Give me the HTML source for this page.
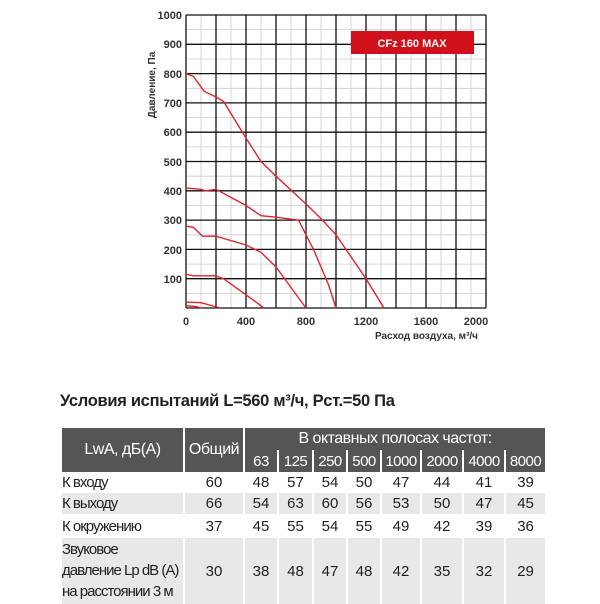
<!DOCTYPE html>
<html><head><meta charset="utf-8"><style>
body{margin:0;width:600px;height:600px;background:#fff;overflow:hidden;position:relative;font-family:"Liberation Sans",sans-serif}
.t{position:absolute;left:60px;top:392px;font:bold 16.5px "Liberation Sans",sans-serif;color:#222;letter-spacing:-0.3px;white-space:nowrap}
table{position:absolute;left:60px;top:428px;border-collapse:collapse;font-size:15px;color:#222;table-layout:fixed;width:485px}
td{padding:0;text-align:center;border:2px solid #fff;border-top:none;border-bottom:none;white-space:nowrap;overflow:hidden}
.h{background:#555;color:#fff;letter-spacing:-0.5px}
.g td{background:#e8e8e8}
.l{text-align:left;line-height:21px;letter-spacing:-1px;font-size:15px}
</style></head><body>
<svg width="600" height="380" style="position:absolute;left:0;top:0" font-family="Liberation Sans,sans-serif">
<g stroke="#ccc" stroke-width="0.8">
<path d="M201,15V308M231,15V308M261,15V308M291,15V308M321,15V308M351,15V308M381,15V308M411,15V308M441,15V308M471,15V308"/>
<path d="M186,29.6H486M186,59H486M186,88.3H486M186,117.6H486M186,146.9H486M186,176.2H486M186,205.5H486M186,234.8H486M186,264.1H486M186,293.4H486"/>
</g>
<g stroke="#111" stroke-width="1.3">
<path d="M186,15V308M216,15V308M246,15V308M276,15V308M306,15V308M336,15V308M366,15V308M396,15V308M426,15V308M456,15V308M486,15V308"/>
<path d="M186,15H486M186,44.3H486M186,73.6H486M186,102.9H486M186,132.2H486M186,161.5H486M186,190.8H486M186,220.1H486M186,249.4H486M186,278.7H486M186,308H486"/>
</g>
<rect x="351" y="31" width="123" height="23" fill="#d0101a"/>
<text x="412" y="47" fill="#fff" font-size="11" font-weight="bold" text-anchor="middle">CFz 160 MAX</text>
<g fill="none" stroke="#e3222c" stroke-width="1.4">
<polyline points="186,73.6 193.5,76.5 204,91.2 216,97 223.5,101.4 246,138.1 261,161.5 276,176.2 306,204 321,218.6 336,234.8 366,278.7 384,308"/>
<polyline points="186,187.9 201,189.3 205.5,190.8 216,189.3 246,205.5 261,215.7 276,217.2 298.5,220.1 306,234.8 313.5,249.4 328.5,284.6 336,308"/>
<polyline points="186,226 193.5,227.4 202.5,236.2 216,236.2 246,245 261,252.3 276,267 291,287.5 306,308"/>
<polyline points="186,274.3 193.5,275.8 216,275.8 223.5,278.7 246,294.8 264,308"/>
<polyline points="186,302.1 201,302.7 220.5,308"/>
<polyline points="186,305.7 195,306.5 202.5,308"/>
</g>
<g font-size="11" font-weight="bold" fill="#333" text-anchor="end">
<text x="182" y="19">1000</text><text x="182" y="48">900</text><text x="182" y="78">800</text><text x="182" y="107">700</text><text x="182" y="136">600</text><text x="182" y="166">500</text><text x="182" y="195">400</text><text x="182" y="224">300</text><text x="182" y="254">200</text><text x="182" y="283">100</text>
</g>
<g font-size="11" font-weight="bold" fill="#333" text-anchor="middle">
<text x="186" y="325">0</text><text x="246" y="325">400</text><text x="306" y="325">800</text><text x="366" y="325">1200</text><text x="426" y="325">1600</text><text x="476" y="325">2000</text>
</g>
<text x="478" y="339" font-size="10" font-weight="bold" fill="#333" text-anchor="end">Расход воздуха, м³/ч</text>
<text transform="translate(155,85) rotate(-90)" font-size="10" font-weight="bold" fill="#333" text-anchor="middle">Давление, Па</text>
</svg>
<div class="t">Условия испытаний L=560 м³/ч, Рст.=50 Па</div>
<table>
<colgroup><col style="width:123px"><col style="width:60px"><col style="width:34px"><col style="width:35px"><col style="width:34px"><col style="width:34px"><col style="width:40px"><col style="width:42px"><col style="width:42px"><col style="width:41px"></colgroup>
<tr style="height:22px"><td class="h" rowspan="2" style="font-size:16px">LwA, дБ(А)</td><td class="h" rowspan="2" style="font-size:16px">Общий</td><td class="h" colspan="8" style="font-size:16px">В октавных полосах частот:</td></tr>
<tr style="height:22px"><td class="h">63</td><td class="h">125</td><td class="h">250</td><td class="h">500</td><td class="h">1000</td><td class="h">2000</td><td class="h">4000</td><td class="h">8000</td></tr>
<tr style="height:20px"><td class="l">К входу</td><td>60</td><td>48</td><td>57</td><td>54</td><td>50</td><td>47</td><td>44</td><td>41</td><td>39</td></tr>
<tr style="height:21px" class="g"><td class="l">К выходу</td><td>66</td><td>54</td><td>63</td><td>60</td><td>56</td><td>53</td><td>50</td><td>47</td><td>45</td></tr>
<tr style="height:24px"><td class="l">К окружению</td><td>37</td><td>45</td><td>55</td><td>54</td><td>55</td><td>49</td><td>42</td><td>39</td><td>36</td></tr>
<tr style="height:66px" class="g"><td class="l" style="vertical-align:top;padding-top:1px">Звуковое<br>давление Lp dB (A)<br>на расстоянии 3 м</td><td>30</td><td>38</td><td>48</td><td>47</td><td>48</td><td>42</td><td>35</td><td>32</td><td>29</td></tr>
</table>
</body></html>
